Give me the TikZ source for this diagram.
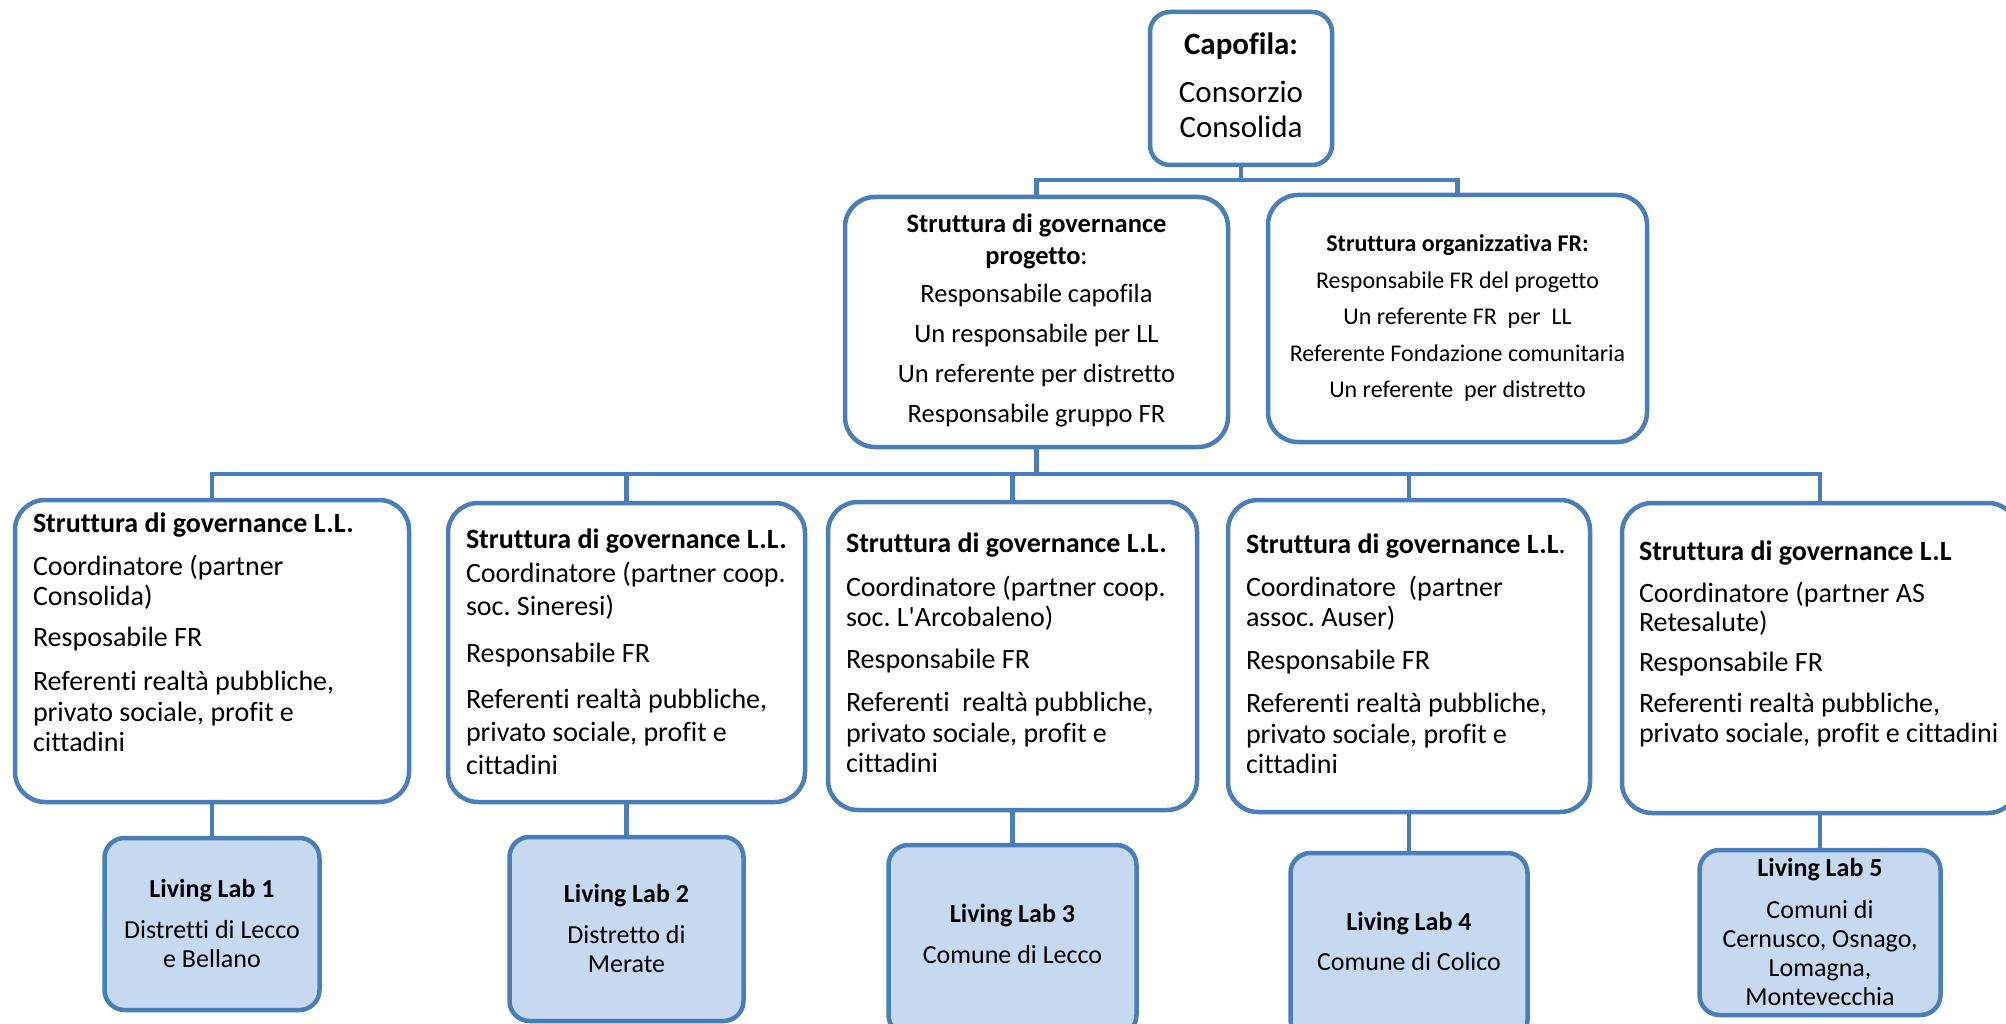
\documentclass[tikz,border=0pt]{standalone}
\usepackage{fontspec}
\setmainfont{Carlito}[Ligatures={CommonOff,TeXOff}]
\usepackage{tikz}
\usetikzlibrary{positioning}
\definecolor{BoxLine}{RGB}{74,126,187}
\definecolor{LabFill}{RGB}{198,217,241}
\frenchspacing

\begin{document}
\begin{tikzpicture}[
            x=1pt,
            y=-1pt,
            box/.style={draw=BoxLine, line width=4.5pt, fill=white, rounded corners=30pt, inner ysep=0pt, outer sep=0pt, anchor=north west},
            topbox/.style={box, align=flush center, inner xsep=10pt},
            govbox/.style={box, align=flush left, inner xsep=18pt, font=\fontsize{28}{30.5}\selectfont,
                execute at begin node={\rightskip=-30pt plus 1fil\hyphenpenalty=10000\relax}},
            labbox/.style={box, fill=LabFill, rounded corners=20pt, align=flush center, inner xsep=8pt, font=\fontsize{26}{29}\selectfont},
            link/.style={draw=BoxLine, line width=4.5pt},
        ]

        % Canvas
        \useasboundingbox (0,0) rectangle (2006,1024);
        \clip (0,0) rectangle (2006,1024);

        % Lead partner
        \node[topbox, rounded corners=20pt, inner xsep=8pt, text width=166pt, text height=43pt, text depth=110pt,
              font=\fontsize{31}{35}\selectfont] (capo) at (1150,12)
              {\textbf{Capofila:}\\[13pt]Consorzio\\Consolida};

        % Project governance and FR structure
        \node[topbox, text width=363pt, text height=36pt, text depth=214pt, font=\fontsize{26.5}{32}\selectfont] (gov) at (845,197)
              {\textbf{Struttura di governance}\\\textbf{progetto}:\\[6pt]Responsabile capofila\\[8pt]Un responsabile per LL\\[8pt]Un referente per distretto\\[8pt]Responsabile gruppo FR};
        \node[topbox, text width=359pt, text height=57pt, text depth=190pt, font=\fontsize{24}{36.5}\selectfont] (fr) at (1268,195)
              {\textbf{Struttura organizzativa FR:}\\Responsabile FR del progetto\\Un referente FR\ \ per\ \ LL\\Referente Fondazione comunitaria\\Un referente\ \ per distretto};

        % Living lab governance
        \node[govbox, text width=358pt, text height=32pt, text depth=270pt] (gl1) at (15,500)
              {\textbf{Struttura di governance L.L.}\\[12.5pt]Coordinatore (partner\\Consolida)\\[10.5pt]Resposabile FR\\[13.5pt]Referenti realtà pubbliche,\\privato sociale, profit e\\cittadini};
        \node[govbox, text width=321pt, text height=45pt, text depth=254pt, font=\fontsize{28}{33}\selectfont] (gl2) at (448,503)
              {\textbf{Struttura di governance L.L.}\\[1pt]Coordinatore (partner coop.\\soc. Sineresi)\\[14pt]Responsabile FR\\[13pt]Referenti realtà pubbliche,\\privato sociale, profit e\\cittadini};
        \node[govbox, text width=333pt, text height=50pt, text depth=258pt] (gl3) at (828,502)
              {\textbf{Struttura di governance L.L.}\\[13.5pt]Coordinatore (partner coop.\\soc. L'Arcobaleno)\\[11.5pt]Responsabile FR\\[12.5pt]Referenti\ \ realtà pubbliche,\\privato sociale, profit e\\cittadini};
        \node[govbox, text width=326pt, inner xsep=18pt, text height=53pt, text depth=259pt] (gl4) at (1228,500)
              {\textbf{Struttura di governance L.L}.\\[12.5pt]Coordinatore\ \ (partner\\assoc. Auser)\\[12.5pt]Responsabile FR\\[12.5pt]Referenti realtà pubbliche,\\privato sociale, profit e\\cittadini};
        \node[govbox, text width=362pt, inner xsep=17pt, text height=57pt, text depth=253pt, font=\fontsize{28}{29.5}\selectfont] (gl5) at (1622,503)
              {\textbf{Struttura di governance L.L}\\[12.5pt]Coordinatore (partner AS\\Retesalute)\\[10.5pt]Responsabile FR\\[11.5pt]Referenti realtà pubbliche,\\privato sociale, profit e cittadini};

        % Living labs
        \node[labbox, below=36pt of gl1, text width=199pt, text height=59pt, text depth=113pt] (ll1)
              {\textbf{Living Lab 1}\\[12pt]Distretti di Lecco\\e Bellano};
        \node[labbox, below=35pt of gl2, text width=218pt, text height=65pt, text depth=119pt] (ll2)
              {\textbf{Living Lab 2}\\[12pt]Distretto di\\Merate};
        \node[labbox, below=35pt of gl3, text width=232pt, text height=77pt, text depth=113pt] (ll3)
              {\textbf{Living Lab 3}\\[12pt]Comune di Lecco};
        \node[labbox, below=41pt of gl4, text width=221pt, text height=77pt, text depth=110pt] (ll4)
              {\textbf{Living Lab 4}\\[11pt]Comune di Colico};
        \node[labbox, below=37pt of gl5, text width=225pt, text height=26pt, text depth=139pt] (ll5)
              {\textbf{Living Lab 5}\\[13pt]Comuni di\\Cernusco, Osnago,\\Lomagna,\\Montevecchia};

        % Connectors
        \coordinate (topbus) at (0,180);
        \coordinate (midbus) at (0,474);
        \draw[link] (capo.south) -- (capo.south |- topbus) -| (gov.north);
        \draw[link] (capo.south |- topbus) -| (fr.north);
        \foreach \n in {1,...,5} {
            \draw[link] (gov.south) -- (gov.south |- midbus) -| (gl\n.north);
            \draw[link] (gl\n.south) -- (ll\n.north);
        }
\end{tikzpicture}
\end{document}
